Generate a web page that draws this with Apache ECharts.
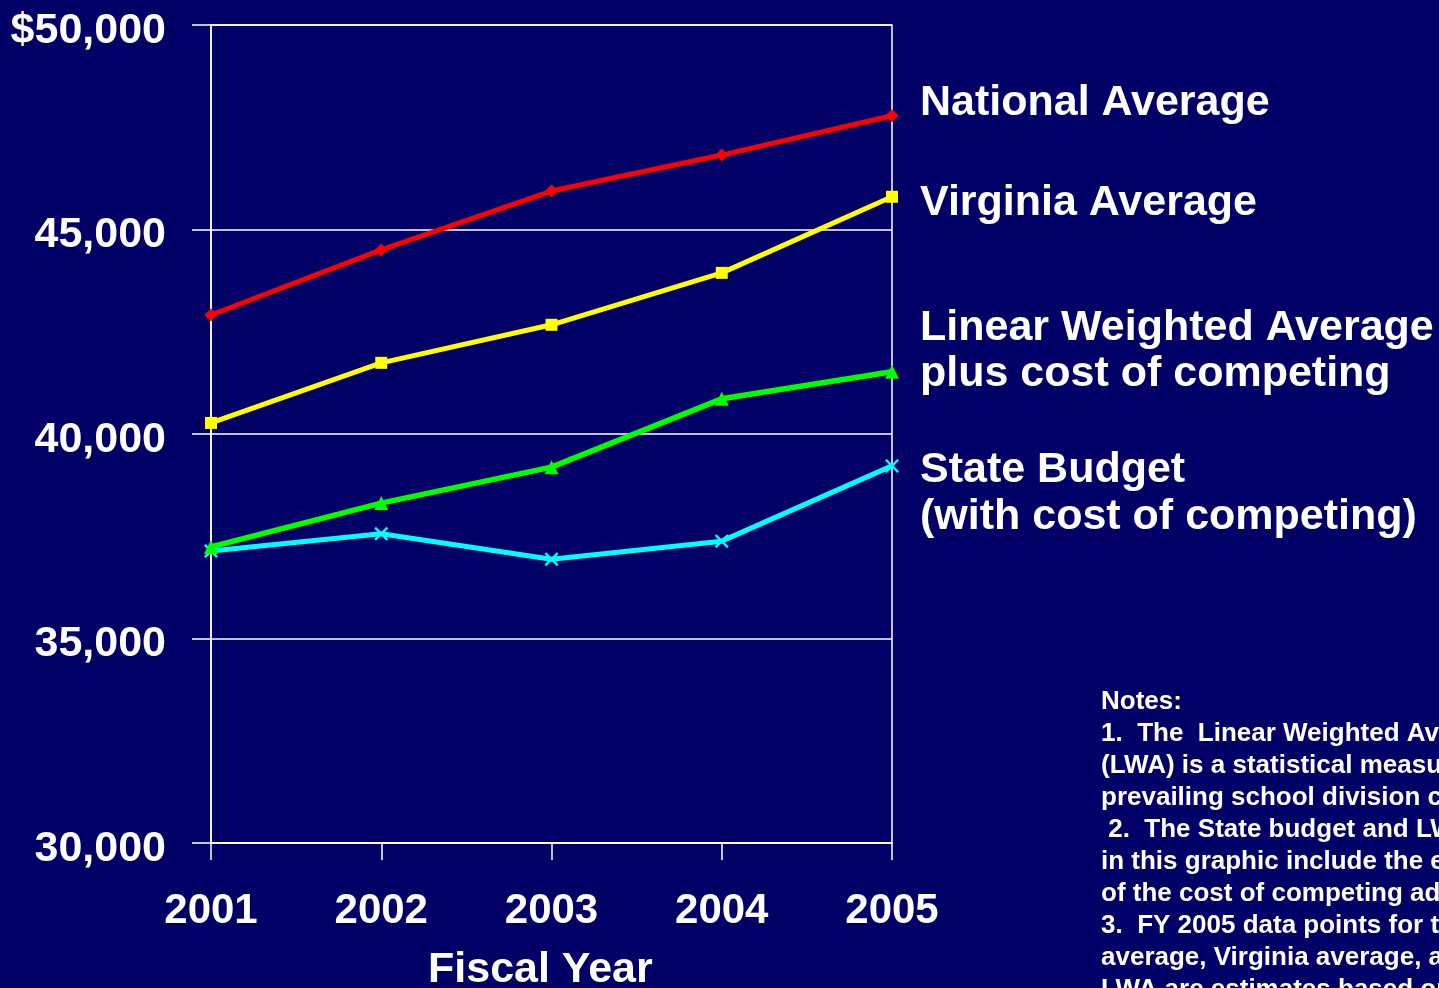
<!DOCTYPE html>
<html>
<head>
<meta charset="utf-8">
<script src="https://cdn.jsdelivr.net/npm/echarts@6/dist/echarts.min.js"></script>
<style>
html,body{margin:0;padding:0;background:#000066;overflow:hidden;}
#chart{width:1439px;height:988px;}
</style>
</head>
<body>
<div id="chart"></div>
<script>
const years = ['2001','2002','2003','2004','2005'];
const nationalAvg = [42910, 44500, 45940, 46820, 47780];
const virginiaAvg = [40270, 41740, 42670, 43940, 45800];
const lwaPlusCompeting = [37240, 38310, 39190, 40860, 41520];
const stateBudget = [37140, 37560, 36940, 37380, 39220];
const yTicks = {min: 30000, max: 50000, step: 5000};
const seriesNames = ['National Average', 'Virginia Average', 'Linear Weighted Average\nplus cost of competing', 'State Budget\n(with cost of competing)'];
const notesLines = [
  'Notes:',
  '1.  The  Linear Weighted Average',
  '(LWA) is a statistical measure of the',
  'prevailing school division compensation',
  ' 2.  The State budget and LWA figures',
  'in this graphic include the effect',
  'of the cost of competing adjustment.',
  '3.  FY 2005 data points for the national',
  'average, Virginia average, and the',
  'LWA are estimates based on data'
];

const FONT = "'Liberation Sans', Arial, Helvetica, sans-serif";
const chart = echarts.init(document.getElementById('chart'), null, {renderer: 'canvas'});
const xSym = 'path://M0,1.2 L1.2,0 L5,3.8 L8.8,0 L10,1.2 L6.2,5 L10,8.8 L8.8,10 L5,6.2 L1.2,10 L0,8.8 L3.8,5 Z';

const option = {
  backgroundColor: '#000066',
  animation: false,
  grid: {left: 211, right: 547, top: 25, bottom: 145, outerBoundsMode: 'none', containLabel: false,
         show: true, borderColor: '#ffffff', borderWidth: 1.5, backgroundColor: 'transparent'},
  xAxis: {
    type: 'category', data: years, boundaryGap: false,
    axisLine: {lineStyle: {color: '#ffffff', width: 1.5}},
    axisTick: {show: true, inside: false, length: 17, interval: 0, lineStyle: {color: '#ffffff', width: 1.5}},
    axisLabel: {color: '#ffffff', fontFamily: FONT, fontWeight: 'bold', fontSize: 42, lineHeight: 42, margin: 47, interval: 0},
    splitLine: {show: false}
  },
  yAxis: {
    type: 'value', min: yTicks.min, max: yTicks.max, interval: yTicks.step,
    axisLine: {show: true, lineStyle: {color: '#ffffff', width: 1.5}},
    axisTick: {show: true, inside: false, length: 19, lineStyle: {color: '#ffffff', width: 1.5}},
    axisLabel: {
      color: '#ffffff', margin: 45,
      formatter: v => '{t|' + (v === yTicks.max ? '$' : '') + v.toLocaleString('en-US') + '}',
      rich: {t: {color: '#ffffff', fontFamily: FONT, fontWeight: 'bold', fontSize: 43, lineHeight: 43, padding: [12, 0, 0, 0]}}
    },
    splitLine: {show: true, lineStyle: {color: '#ffffff', width: 1.5}}
  },
  series: [
    {name: seriesNames[0], type: 'line', data: nationalAvg, symbol: 'diamond', symbolSize: 13,
     lineStyle: {color: '#ff0000', width: 5}, itemStyle: {color: '#ff0000'}, z: 5},
    {name: seriesNames[1], type: 'line', data: virginiaAvg, symbol: 'rect', symbolSize: 12,
     lineStyle: {color: '#ffff00', width: 5}, itemStyle: {color: '#ffff00'}, z: 5},
    {name: seriesNames[2], type: 'line', data: lwaPlusCompeting, symbol: 'triangle', symbolSize: 14,
     lineStyle: {color: '#00ff00', width: 5.5}, itemStyle: {color: '#00ff00'}, z: 5},
    {name: seriesNames[3], type: 'line', data: stateBudget, symbol: xSym, symbolSize: 14,
     lineStyle: {color: '#00ffff', width: 5}, itemStyle: {color: '#00ffff'}, z: 4}
  ],
  graphic: [
    {type: 'text', left: 920, top: 82, style: {text: seriesNames[0], fill: '#ffffff', font: "bold 43px " + FONT}},
    {type: 'text', left: 920, top: 182, style: {text: seriesNames[1], fill: '#ffffff', font: "bold 43px " + FONT}},
    {type: 'text', left: 920, top: 305, style: {text: seriesNames[2], fill: '#ffffff', font: "bold 43px " + FONT, lineHeight: 46}},
    {type: 'text', left: 920, top: 447, style: {text: seriesNames[3], fill: '#ffffff', font: "bold 43px " + FONT, lineHeight: 47}},
    {type: 'text', left: 428, top: 949, style: {text: 'Fiscal Year', fill: '#ffffff', font: "bold 43px " + FONT}},
    {type: 'text', left: 1101, top: 686, style: {text: notesLines.join('\n'), fill: '#ffffff', font: "bold 26px " + FONT, lineHeight: 32}}
  ]
};
chart.setOption(option);
</script>
</body>
</html>
